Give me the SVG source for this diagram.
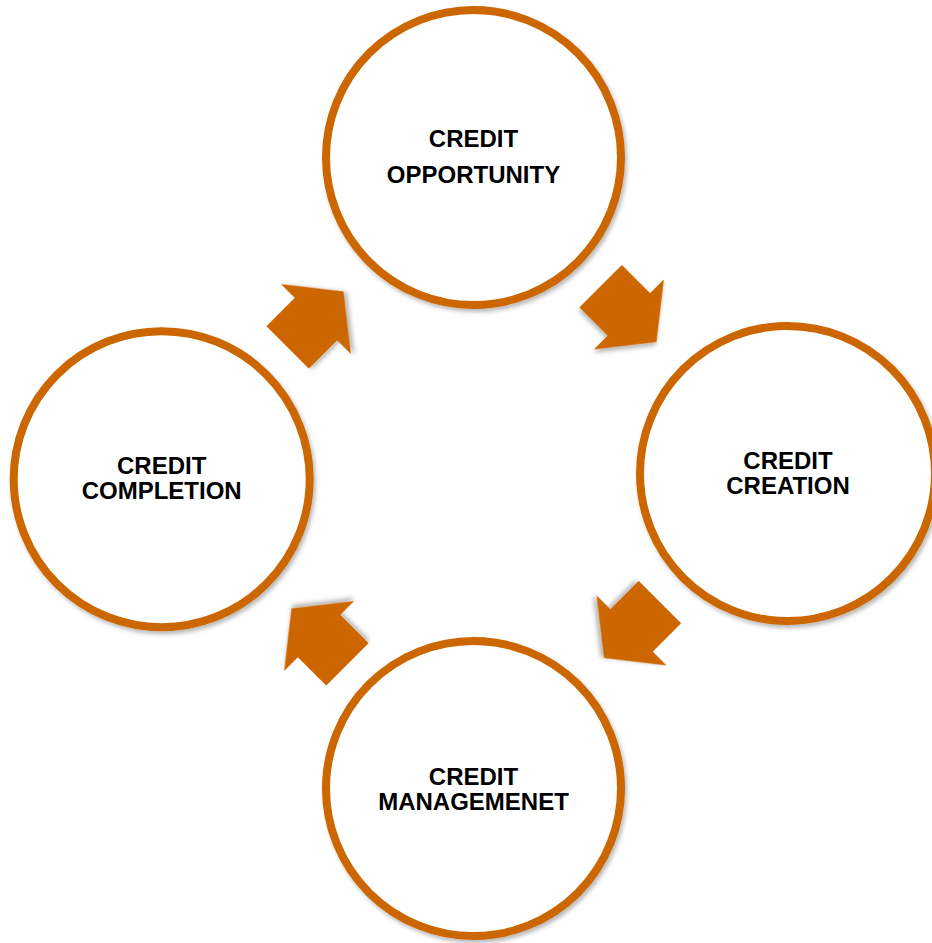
<svg xmlns="http://www.w3.org/2000/svg" width="932" height="943" viewBox="0 0 932 943">
  <defs>
    <filter id="shadow" x="-20%" y="-20%" width="140%" height="140%">
      <feDropShadow dx="2" dy="3" stdDeviation="2" flood-color="#000" flood-opacity="0.28"/>
    </filter>
    <!-- block arrow, tip at origin, pointing along +x -->
    <path id="blockArrow" d="M0,0 L-39,-49.5 L-39,-30 L-79,-30 L-79,30 L-39,30 L-39,49.5 Z"/>
  </defs>
  <style>
    .ring { fill: #ffffff; stroke: #CC6600; stroke-width: 8; filter: url(#shadow); }
    .arrow { fill: #CC6600; filter: url(#shadow); }
    .label { font-family: "Liberation Sans", Arial, sans-serif; font-weight: bold; font-size: 24px; fill: #000000; text-anchor: middle; }
  </style>
  <rect width="932" height="943" fill="#ffffff"/>

  <g id="connectors">
    <use href="#blockArrow" class="arrow" transform="translate(343.5,291.5) rotate(-45)"/>
    <use href="#blockArrow" class="arrow" transform="translate(656.5,342) rotate(45)"/>
    <use href="#blockArrow" class="arrow" transform="translate(604,658) rotate(135)"/>
    <use href="#blockArrow" class="arrow" transform="translate(291.5,608.5) rotate(-135)"/>
  </g>

  <g id="credit-opportunity">
    <circle class="ring" cx="473.5" cy="157.5" r="147.5"/>
    <text class="label" x="473.5" y="147">CREDIT</text>
    <text class="label" x="473.5" y="183">OPPORTUNITY</text>
  </g>

  <g id="credit-creation">
    <circle class="ring" cx="787.5" cy="473.5" r="147.5"/>
    <text class="label" x="788" y="468.5">CREDIT</text>
    <text class="label" x="788" y="494">CREATION</text>
  </g>

  <g id="credit-managemenet">
    <circle class="ring" cx="473.5" cy="788.5" r="147.5"/>
    <text class="label" x="473.5" y="785">CREDIT</text>
    <text class="label" x="473.5" y="809.5">MANAGEMENET</text>
  </g>

  <g id="credit-completion">
    <circle class="ring" cx="161.7" cy="479.2" r="148"/>
    <text class="label" x="161.7" y="474">CREDIT</text>
    <text class="label" x="161.7" y="499">COMPLETION</text>
  </g>
</svg>
